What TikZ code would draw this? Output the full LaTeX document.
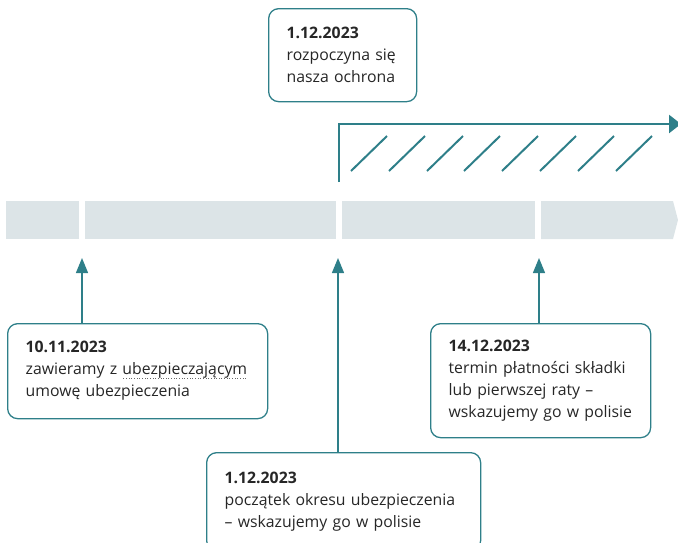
\documentclass[tikz,border=0pt]{standalone}
\usepackage{fontspec}
\setmainfont{Open Sans}
\usetikzlibrary{arrows.meta}
\definecolor{teal}{HTML}{2E7F89}
\definecolor{barfill}{HTML}{DCE4E7}
\definecolor{ink}{HTML}{262626}
\newcommand\dotword[1]{\setbox0=\hbox{#1}\rlap{\raisebox{-3.5pt}{\textcolor{ink!70}{\hbox to \wd0{\xleaders\hbox to 2.6pt{\hss\rule{0.9pt}{0.9pt}\hss}\hfill}}}}\box0}
\begin{document}
\begin{tikzpicture}[x=1pt,y=-1pt]
			\tikzset{infobox/.style = {draw=teal, line width=1.3pt, rounded corners=10pt, anchor=north west,
				align=left, inner xsep=18pt, inner ysep=0pt, text=ink,
				font=\fontsize{15.8}{22}\selectfont}}
			\tikzset{pointer/.style = {-{Triangle[width=12pt,length=15pt]}, teal, line width=1.3pt}}
			\tikzset{hatch/.style = {teal, line width=2pt}}
			\useasboundingbox (0,0) rectangle (678,542);
			\clip (0,0) rectangle (678,542);
			% time bar
			\fill[barfill] (6,201) rectangle (79,239);
			\fill[barfill] (85,201) rectangle (336,239);
			\fill[barfill] (342,201) rectangle (535,239);
			\fill[barfill] (541,201) -- (673,201) -- (678,220) -- (673,239) -- (541,239) -- cycle;
			% boxes
			\node[infobox, minimum width=148pt, minimum height=93pt, text width=112pt] (top) at (268,8)
				{\mbox{\textbf{1.12.2023}}\\\mbox{rozpoczyna się}\\\mbox{nasza ochrona}};
			\node[infobox, minimum width=260pt, minimum height=95pt, text width=224pt] (left) at (7,323)
				{\mbox{\textbf{10.11.2023}}\\\mbox{zawieramy z \dotword{ubezpieczającym}}\\\mbox{umowę ubezpieczenia}};
			\node[infobox, minimum width=274pt, minimum height=98pt, text width=238pt] (mid) at (206,452)
				{\mbox{\textbf{1.12.2023}}\\\mbox{początek okresu ubezpieczenia}\\\mbox{– wskazujemy go w polisie}};
			\node[infobox, minimum width=220pt, minimum height=114pt, text width=184pt] (right) at (430,323)
				{\mbox{\textbf{14.12.2023}}\\\mbox{termin płatności składki}\\\mbox{lub pierwszej raty –}\\\mbox{wskazujemy go w polisie}};
			% pointers to the bar
			\coordinate (t1) at (82,258);
			\coordinate (t2) at (338,258);
			\coordinate (t3) at (539,258);
			\draw[pointer] (t1 |- left.north) -- (t1);
			\draw[pointer] (t2 |- mid.north) -- (t2);
			\draw[pointer] (t3 |- right.north) -- (t3);
			% protection period
			\coordinate (start) at (339,182);
			\coordinate (end) at (681,124);
			\draw[teal, line width=2.5pt, -{Triangle[width=18pt,length=12pt]}] (start) |- (end);
			\foreach \x in {351,389,427,464,502,540,578,616}
				\draw[hatch] (\x,171) -- ++(36,-35);
		\end{tikzpicture}
\end{document}
